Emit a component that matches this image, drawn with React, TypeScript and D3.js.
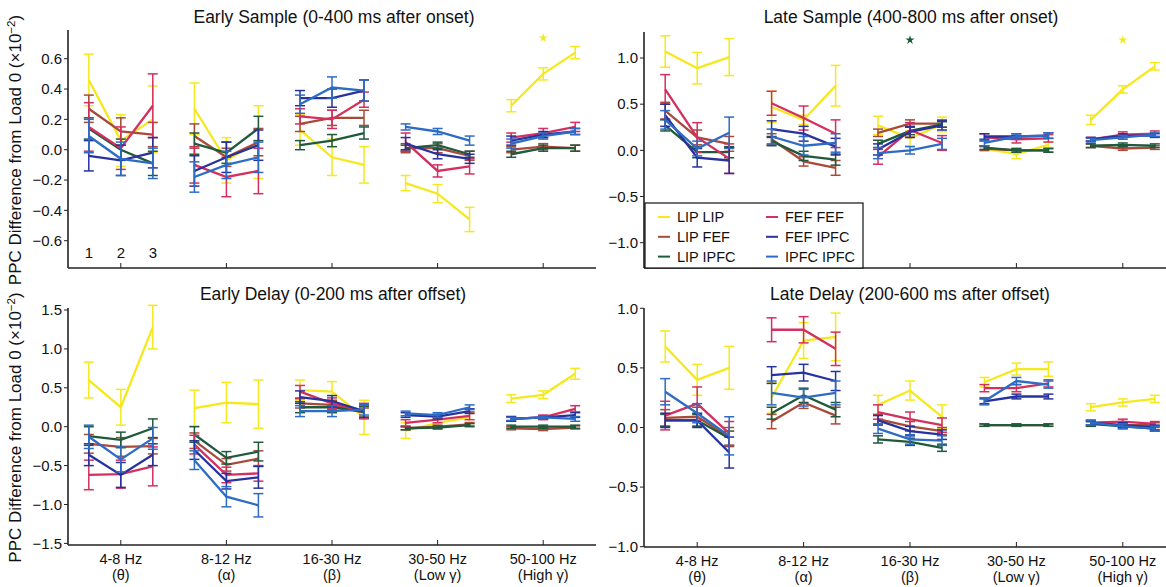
import React from 'react';
import * as d3 from 'd3';

const bands = ['4-8 Hz', '8-12 Hz', '16-30 Hz', '30-50 Hz', '50-100 Hz'];
const bandSymbols = ['(θ)', '(α)', '(β)', '(Low γ)', '(High γ)'];
const loads = [1, 2, 3];
const pairs = ['LIP LIP', 'LIP FEF', 'LIP IPFC', 'FEF FEF', 'FEF IPFC', 'IPFC IPFC'];
const pairColors = ['#f5e91e', '#a84a3a', '#1f5a3c', '#d42f5e', '#27329e', '#2d6cc4'];

// rows follow `pairs`; 15 values = 5 bands x 3 loads
const earlySampleMean = [
  [0.46, 0.06, 0.20, 0.27, -0.07, 0.05, 0.13, -0.05, -0.10, -0.22, -0.29, -0.46, 0.29, 0.50, 0.64],
  [0.27, 0.12, 0.10, 0.09, -0.05, 0.05, 0.17, 0.21, 0.21, 0.01, 0.01, -0.04, 0.00, 0.02, 0.01],
  [0.14, 0.00, -0.09, 0.04, -0.02, 0.14, 0.03, 0.06, 0.11, 0.01, 0.03, -0.03, -0.03, 0.01, 0.01],
  [0.15, 0.01, 0.29, -0.10, -0.18, -0.14, 0.22, 0.20, 0.33, 0.05, -0.14, -0.11, 0.08, 0.11, 0.15],
  [-0.04, -0.07, -0.02, -0.14, -0.05, 0.03, 0.34, 0.34, 0.39, 0.04, -0.03, -0.06, 0.06, 0.10, 0.12],
  [0.09, -0.06, -0.09, -0.18, -0.10, -0.05, 0.30, 0.41, 0.39, 0.15, 0.12, 0.06, 0.04, 0.09, 0.12],
];
const earlySampleErr = [
  [0.17, 0.17, 0.22, 0.17, 0.15, 0.24, 0.10, 0.12, 0.12, 0.05, 0.06, 0.08, 0.04, 0.04, 0.04],
  [0.09, 0.09, 0.08, 0.08, 0.06, 0.09, 0.05, 0.05, 0.05, 0.03, 0.03, 0.03, 0.02, 0.02, 0.02],
  [0.07, 0.07, 0.08, 0.07, 0.07, 0.08, 0.03, 0.04, 0.04, 0.02, 0.02, 0.02, 0.02, 0.02, 0.02],
  [0.16, 0.14, 0.21, 0.12, 0.13, 0.15, 0.05, 0.06, 0.05, 0.06, 0.04, 0.05, 0.03, 0.03, 0.03],
  [0.10, 0.10, 0.10, 0.10, 0.10, 0.10, 0.05, 0.06, 0.07, 0.04, 0.03, 0.03, 0.03, 0.02, 0.02],
  [0.11, 0.11, 0.10, 0.10, 0.09, 0.10, 0.06, 0.07, 0.07, 0.02, 0.02, 0.03, 0.03, 0.02, 0.02],
];

const lateSampleMean = [
  [1.07, 0.89, 1.01, 0.47, 0.33, 0.70, 0.27, 0.13, 0.28, 0.02, -0.04, 0.06, 0.33, 0.66, 0.91],
  [0.43, 0.14, 0.07, 0.12, -0.12, -0.19, 0.19, 0.29, 0.29, 0.02, 0.00, 0.00, 0.05, 0.02, 0.03],
  [0.27, -0.02, -0.02, 0.10, -0.06, -0.10, 0.07, 0.21, 0.28, 0.03, 0.00, 0.00, 0.05, 0.06, 0.05],
  [0.66, 0.14, -0.09, 0.51, 0.35, 0.18, -0.07, 0.22, 0.08, 0.14, 0.12, 0.13, 0.12, 0.17, 0.18],
  [0.38, -0.08, -0.11, 0.23, 0.18, 0.04, 0.01, 0.20, 0.27, 0.15, 0.15, 0.16, 0.12, 0.16, 0.16],
  [0.33, 0.02, 0.19, 0.15, 0.05, 0.08, -0.03, 0.00, 0.07, 0.08, 0.15, 0.16, 0.11, 0.14, 0.17],
];
const lateSampleErr = [
  [0.17, 0.17, 0.20, 0.17, 0.05, 0.22, 0.10, 0.08, 0.08, 0.03, 0.05, 0.03, 0.05, 0.04, 0.04],
  [0.09, 0.08, 0.08, 0.06, 0.05, 0.08, 0.04, 0.04, 0.04, 0.02, 0.02, 0.02, 0.02, 0.02, 0.02],
  [0.06, 0.06, 0.06, 0.05, 0.05, 0.06, 0.04, 0.04, 0.03, 0.02, 0.02, 0.02, 0.02, 0.02, 0.02],
  [0.16, 0.16, 0.16, 0.13, 0.13, 0.15, 0.08, 0.08, 0.08, 0.04, 0.04, 0.04, 0.02, 0.03, 0.03],
  [0.12, 0.10, 0.14, 0.09, 0.08, 0.09, 0.06, 0.06, 0.05, 0.03, 0.03, 0.03, 0.02, 0.02, 0.02],
  [0.10, 0.08, 0.17, 0.08, 0.10, 0.10, 0.06, 0.04, 0.06, 0.03, 0.03, 0.03, 0.02, 0.02, 0.02],
];

const earlyDelayMean = [
  [0.60, 0.25, 1.28, 0.24, 0.31, 0.29, 0.47, 0.45, 0.12, -0.05, 0.05, 0.12, 0.36, 0.41, 0.68],
  [-0.22, -0.26, -0.25, -0.18, -0.49, -0.41, 0.30, 0.28, 0.18, -0.02, 0.00, 0.03, -0.02, -0.03, -0.01],
  [-0.12, -0.17, -0.02, -0.10, -0.40, -0.32, 0.25, 0.25, 0.19, -0.02, -0.01, 0.02, 0.00, 0.00, 0.00],
  [-0.62, -0.61, -0.51, -0.23, -0.62, -0.60, 0.45, 0.30, 0.20, 0.05, 0.09, 0.14, 0.10, 0.12, 0.23],
  [-0.36, -0.62, -0.36, -0.30, -0.70, -0.65, 0.38, 0.33, 0.20, 0.15, 0.13, 0.20, 0.10, 0.12, 0.15],
  [-0.13, -0.42, -0.15, -0.43, -0.90, -1.01, 0.20, 0.20, 0.22, 0.17, 0.15, 0.25, 0.10, 0.12, 0.10],
];
const earlyDelayErr = [
  [0.23, 0.23, 0.28, 0.23, 0.26, 0.31, 0.13, 0.13, 0.22, 0.10, 0.06, 0.06, 0.05, 0.05, 0.07],
  [0.12, 0.12, 0.10, 0.10, 0.08, 0.10, 0.06, 0.06, 0.06, 0.02, 0.02, 0.02, 0.02, 0.02, 0.02],
  [0.12, 0.10, 0.12, 0.10, 0.08, 0.12, 0.07, 0.07, 0.07, 0.02, 0.02, 0.02, 0.02, 0.02, 0.02],
  [0.19, 0.18, 0.25, 0.12, 0.10, 0.10, 0.08, 0.07, 0.10, 0.04, 0.04, 0.05, 0.03, 0.03, 0.04],
  [0.14, 0.16, 0.14, 0.12, 0.10, 0.14, 0.08, 0.07, 0.08, 0.03, 0.03, 0.03, 0.03, 0.02, 0.03],
  [0.15, 0.16, 0.14, 0.12, 0.13, 0.15, 0.07, 0.07, 0.07, 0.03, 0.03, 0.03, 0.02, 0.02, 0.03],
];

const lateDelayMean = [
  [0.68, 0.40, 0.50, 0.25, 0.73, 0.76, 0.19, 0.31, 0.09, 0.38, 0.49, 0.49, 0.17, 0.21, 0.24],
  [0.08, 0.09, -0.08, 0.05, 0.21, 0.10, 0.07, 0.01, -0.03, 0.02, 0.02, 0.02, 0.03, 0.02, 0.02],
  [0.06, 0.06, -0.09, 0.12, 0.27, 0.15, -0.10, -0.12, -0.17, 0.02, 0.02, 0.02, 0.03, 0.01, -0.01],
  [0.10, 0.20, -0.05, 0.82, 0.82, 0.66, 0.13, 0.07, 0.02, 0.33, 0.33, 0.37, 0.04, 0.05, 0.03],
  [0.06, 0.06, -0.21, 0.44, 0.46, 0.39, 0.06, -0.03, -0.06, 0.22, 0.26, 0.26, 0.04, 0.02, 0.00],
  [0.30, 0.12, -0.07, 0.29, 0.25, 0.29, -0.01, -0.10, -0.11, 0.22, 0.39, 0.36, 0.04, 0.01, -0.01],
];
const lateDelayErr = [
  [0.13, 0.13, 0.18, 0.13, 0.15, 0.20, 0.08, 0.08, 0.10, 0.04, 0.05, 0.06, 0.03, 0.03, 0.03],
  [0.07, 0.08, 0.08, 0.06, 0.05, 0.07, 0.04, 0.04, 0.03, 0.01, 0.01, 0.01, 0.02, 0.02, 0.02],
  [0.05, 0.05, 0.06, 0.05, 0.06, 0.06, 0.03, 0.03, 0.03, 0.01, 0.01, 0.01, 0.02, 0.02, 0.02],
  [0.12, 0.14, 0.10, 0.10, 0.11, 0.14, 0.06, 0.06, 0.06, 0.03, 0.03, 0.03, 0.02, 0.02, 0.02],
  [0.06, 0.06, 0.13, 0.07, 0.07, 0.08, 0.04, 0.04, 0.04, 0.02, 0.02, 0.02, 0.02, 0.02, 0.02],
  [0.11, 0.08, 0.16, 0.10, 0.07, 0.10, 0.04, 0.04, 0.04, 0.03, 0.03, 0.03, 0.02, 0.02, 0.02],
];

const earlySampleTicks = [-0.6, -0.4, -0.2, 0.0, 0.2, 0.4, 0.6];
const lateSampleTicks = [-1.0, -0.5, 0.0, 0.5, 1.0];
const earlyDelayTicks = [-1.5, -1.0, -0.5, 0.0, 0.5, 1.0, 1.5];
const lateDelayTicks = [-1.0, -0.5, 0.0, 0.5, 1.0];

// significance stars: [band index, load, pair index]
const earlySampleStars = [[4, 2, 0]];
const lateSampleStars = [[2, 2, 2], [4, 2, 0]];

const FONT = '"Liberation Sans", Arial, Helvetica, sans-serif';
const AXIS = '#222';
const TXT = '#111';

const fmt = (v: number) => {
  const s = Math.abs(v).toFixed(1);
  return v < -1e-9 ? '\u2212' + s : s;
};

type PanelCfg = {
  title: string;
  mean: number[][];
  err: number[][];
  ticks: number[];
  x0: number; x1: number;
  yTop: number; yBot: number;
  dom: [number, number]; rng: [number, number];
  titleX: number; titleY: number;
  xLabels: boolean; yLabel: boolean; loadLabels: boolean;
  stars: number[][];
  legend: boolean;
};

const panels: PanelCfg[] = [
  { title: 'Early Sample (0-400 ms after onset)', mean: earlySampleMean, err: earlySampleErr, ticks: earlySampleTicks,
    x0: 68, x1: 596, yTop: 30, yBot: 268, dom: [-0.6, 0.6], rng: [240.7, 58.7], titleX: 334, titleY: 23,
    xLabels: false, yLabel: true, loadLabels: true, stars: earlySampleStars, legend: false },
  { title: 'Late Sample (400-800 ms after onset)', mean: lateSampleMean, err: lateSampleErr, ticks: lateSampleTicks,
    x0: 644, x1: 1176, yTop: 32, yBot: 268, dom: [-1, 1], rng: [242.7, 58], titleX: 911, titleY: 23,
    xLabels: false, yLabel: false, loadLabels: false, stars: lateSampleStars, legend: true },
  { title: 'Early Delay (0-200 ms after offset)', mean: earlyDelayMean, err: earlyDelayErr, ticks: earlyDelayTicks,
    x0: 68, x1: 596, yTop: 308, yBot: 545, dom: [-1.5, 1.5], rng: [543.4, 310], titleX: 333, titleY: 300,
    xLabels: true, yLabel: true, loadLabels: false, stars: [], legend: false },
  { title: 'Late Delay (200-600 ms after offset)', mean: lateDelayMean, err: lateDelayErr, ticks: lateDelayTicks,
    x0: 644, x1: 1176, yTop: 308, yBot: 547, dom: [-1, 1], rng: [546.7, 308.3], titleX: 910, titleY: 300,
    xLabels: true, yLabel: false, loadLabels: false, stars: [], legend: false },
];

function Panel({ cfg }: { cfg: PanelCfg }) {
  const xb = d3.scaleBand<string>().domain(bands).range([cfg.x0, cfg.x1]);
  const bw = xb.bandwidth();
  const xl = d3.scaleLinear().domain([1, 3]).range([-32, 32]);
  const y = d3.scaleLinear().domain(cfg.dom).range(cfg.rng);
  const px = (b: number, l: number) => (xb(bands[b]) as number) + bw / 2 + xl(l);
  const line = d3.line<[number, number]>().x(d => d[0]).y(d => d[1]);
  const xRight = Math.min(cfg.x1, 1166);

  return (
    <g>
      <text x={cfg.titleX} y={cfg.titleY} textAnchor="middle" fontSize={17.5} fill={TXT} fontFamily={FONT}>{cfg.title}</text>
      <line x1={cfg.x0} x2={cfg.x0} y1={cfg.yTop} y2={cfg.yBot} stroke={AXIS} strokeWidth={1.6} />
      <line x1={cfg.x0} x2={xRight} y1={cfg.yBot} y2={cfg.yBot} stroke={AXIS} strokeWidth={1.6} />
      {cfg.ticks.map(t => (
        <g key={t}>
          <line x1={cfg.x0 - 4} x2={cfg.x0} y1={y(t)} y2={y(t)} stroke={AXIS} strokeWidth={1} />
          <text x={cfg.x0 - 6} y={y(t)} dy="0.35em" textAnchor="end" fontSize={15} fill={TXT} fontFamily={FONT}>{fmt(t)}</text>
        </g>
      ))}
      {bands.map((b, i) => {
        const cx = (xb(b) as number) + bw / 2;
        return (
          <g key={b}>
            <line x1={cx} x2={cx} y1={cfg.yBot} y2={cfg.yBot - 5} stroke={AXIS} strokeWidth={1} />
            {cfg.xLabels && (
              <>
                <text x={cx} y={cfg.yBot + 19} textAnchor="middle" fontSize={14.5} fill={TXT} fontFamily={FONT}>{b}</text>
                <text x={cx} y={cfg.yBot + 35} textAnchor="middle" fontSize={14.5} fill={TXT} fontFamily={FONT}>{bandSymbols[i]}</text>
              </>
            )}
          </g>
        );
      })}
      {cfg.loadLabels && loads.map(l => (
        <text key={l} x={px(0, l)} y={258} textAnchor="middle" fontSize={15} fill={TXT} fontFamily={FONT}>{l}</text>
      ))}
      {pairs.map((p, si) => (
        <g key={p}>
          {bands.map((b, bi) => {
            const pts: [number, number][] = loads.map((l, li) => [px(bi, l), y(cfg.mean[si][bi * 3 + li])]);
            return (
              <g key={b}>
                {loads.map((l, li) => {
                  const m = cfg.mean[si][bi * 3 + li];
                  const e = cfg.err[si][bi * 3 + li];
                  const xx = px(bi, l);
                  const yh = y(m + e), ylo = y(m - e);
                  return (
                    <g key={l} stroke={pairColors[si]} strokeWidth={1.5}>
                      <line x1={xx} x2={xx} y1={yh} y2={ylo} />
                      <line x1={xx - 5} x2={xx + 5} y1={yh} y2={yh} />
                      <line x1={xx - 5} x2={xx + 5} y1={ylo} y2={ylo} />
                    </g>
                  );
                })}
                <path d={line(pts) as string} fill="none" stroke={pairColors[si]} strokeWidth={2.3} />
              </g>
            );
          })}
        </g>
      ))}
      {cfg.stars.map((s, i) => (
        <path key={i} d={d3.symbol(d3.symbolStar, 26)() as string}
          transform={`translate(${px(s[0], s[1])},${cfg.yTop + 8})`} fill={pairColors[s[2]]} />
      ))}
      {cfg.yLabel && (
        <text transform={`translate(21,${(cfg.yTop + cfg.yBot) / 2 + 1}) rotate(-90)`} textAnchor="middle"
          fontSize={17} fill={TXT} fontFamily={FONT}>
          PPC Difference from Load 0 (×10<tspan dy={-6} fontSize={11.5}>−2</tspan><tspan dy={6}>)</tspan>
        </text>
      )}
      {cfg.legend && (
        <g>
          <rect x={645} y={203} width={218} height={65} fill="#fff" stroke="#111" strokeWidth={1.2} />
          {pairs.map((p, i) => {
            const col = i < 3 ? 0 : 1;
            const row = i % 3;
            const lx = col === 0 ? 658 : 766;
            const ly = 217 + row * 19.8;
            return (
              <g key={p}>
                <line x1={lx} x2={lx + 12} y1={ly} y2={ly} stroke={pairColors[i]} strokeWidth={2} />
                <text x={lx + 19} y={ly} dy="0.36em" fontSize={14.5} fill={TXT} fontFamily={FONT}>{p}</text>
              </g>
            );
          })}
        </g>
      )}
    </g>
  );
}

export default function App() {
  return (
    <svg width={1166} height={587} style={{ position: 'absolute', left: 0, top: 0, background: '#fff' }}>
      <rect x={0} y={0} width={1166} height={587} fill="#fff" />
      {panels.map((p, i) => <Panel key={i} cfg={p} />)}
    </svg>
  );
}
